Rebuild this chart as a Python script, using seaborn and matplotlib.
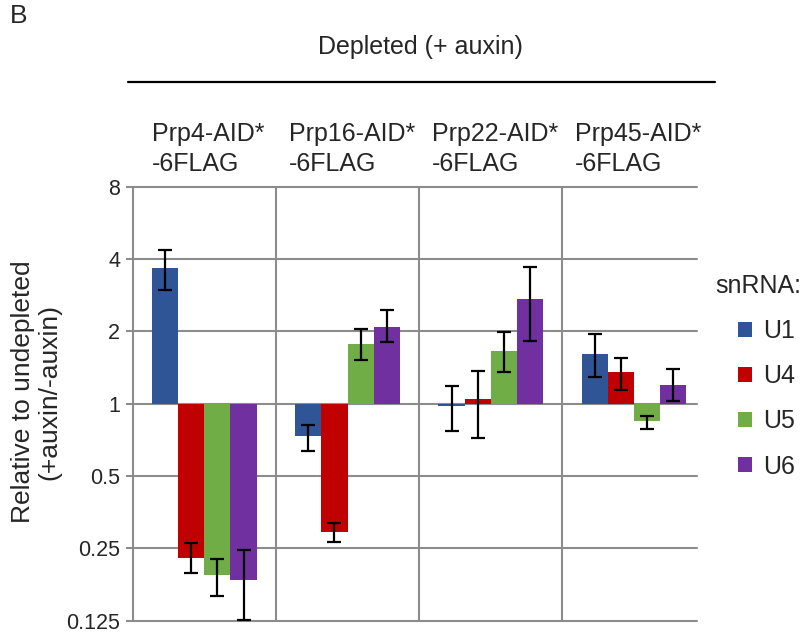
import numpy as np
import pandas as pd
import matplotlib
matplotlib.use("Agg")
import matplotlib.pyplot as plt
import seaborn as sns
from matplotlib.patches import Patch
from matplotlib.lines import Line2D

# ---- data ----
strains = ["Prp4-AID*\n-6FLAG", "Prp16-AID*\n-6FLAG", "Prp22-AID*\n-6FLAG", "Prp45-AID*\n-6FLAG"]
snrnas = ["U1", "U4", "U5", "U6"]

u1 = [3.66, 0.731, 0.98, 1.61]
u1_hi = [4.38, 0.816, 1.18, 1.95]
u1_lo = [2.96, 0.635, 0.77, 1.29]

u4 = [0.228, 0.293, 1.05, 1.35]
u4_hi = [0.262, 0.320, 1.37, 1.55]
u4_lo = [0.198, 0.266, 0.72, 1.14]

u5 = [0.193, 1.77, 1.66, 0.845]
u5_hi = [0.225, 2.04, 1.99, 0.886]
u5_lo = [0.158, 1.52, 1.35, 0.785]

u6 = [0.185, 2.09, 2.74, 1.195]
u6_hi = [0.246, 2.46, 3.71, 1.40]
u6_lo = [0.126, 1.80, 1.83, 1.03]

ytick_vals = [0.125, 0.25, 0.5, 1, 2, 4, 8]
ytick_labels = ["0.125", "0.25", "0.5", "1", "2", "4", "8"]

colors = ["#2F5597", "#C00000", "#70AD47", "#7030A0"]

# ---- build table ----
vals = [u1, u4, u5, u6]
his = [u1_hi, u4_hi, u5_hi, u6_hi]
los = [u1_lo, u4_lo, u5_lo, u6_lo]
rows = []
for s, v, h, l in zip(snrnas, vals, his, los):
    for st, vv, hh, ll in zip(strains, v, h, l):
        rows.append(dict(strain=st, snrna=s, value=vv, hi=hh, lo=ll))
df = pd.DataFrame(rows)
df["log2"] = np.log2(df["value"])

sns.set_style("white")
plt.rcParams["font.family"] = ["Liberation Sans", "DejaVu Sans"]

fig = plt.figure(figsize=(8.07, 6.33), dpi=100)
ax = fig.add_axes([132.7 / 807, 1 - 620.7 / 633, (697 - 132.7) / 807, (620.7 - 186.7) / 633])

sns.barplot(data=df, x="strain", y="log2", hue="snrna", order=strains, hue_order=snrnas,
            palette=colors, width=0.73, errorbar=None, legend=False, ax=ax,
            saturation=1, linewidth=0, zorder=3)

# error bars, matched to bars by x position
bars = sorted(ax.patches, key=lambda p: p.get_x())
order = df.assign(ci=df["strain"].map(strains.index), hi_=df["snrna"].map(snrnas.index)) \
          .sort_values(["ci", "hi_"])
xs = [b.get_x() + b.get_width() / 2 for b in bars]
y = np.log2(order["value"].values)
ylo = y - np.log2(order["lo"].values)
yhi = np.log2(order["hi"].values) - y
ax.errorbar(xs, y, yerr=[ylo, yhi], fmt="none", ecolor="black", elinewidth=1.6,
            capsize=5, capthick=1.6, zorder=4)

# axes styling
ax.set_xlim(-0.5, 3.44)
ax.set_ylim(-3, 3)
ax.set_yticks(np.log2(ytick_vals))
ax.set_yticklabels(ytick_labels, fontsize=15.5)
ax.set_xticks([])
ax.set_xlabel("")
ax.set_ylabel("")
for sp in ["top", "right", "bottom"]:
    ax.spines[sp].set_visible(False)
ax.spines["left"].set_color("#8C8C8C")
ax.spines["left"].set_linewidth(1.5)
ax.tick_params(axis="y", left=True, length=5, width=1.5, color="#8C8C8C", pad=4)
gray = "#8C8C8C"
for t in np.log2(ytick_vals):
    ax.axhline(t, color=gray, lw=1.5, zorder=1, clip_on=False)
for xv in [0.5, 1.5, 2.5]:
    ax.axvline(xv, color=gray, lw=1.5, zorder=1)

# group labels above the axes
for j, st in enumerate(strains):
    ax.text(j + 0.03, 1.025, st, transform=ax.get_xaxis_transform(), ha="center",
            va="bottom", multialignment="left", fontsize=18, linespacing=1.3)

# header
fig.text(420 / 807, 1 - 47 / 633, "Depleted (+ auxin)", ha="center", va="center", fontsize=18)
fig.add_artist(Line2D([128 / 807, 715 / 807], [1 - 82 / 633, 1 - 82 / 633], color="black", lw=1.6))
fig.text(10 / 807, 1 - 16 / 633, "B", ha="left", va="center", fontsize=19)

# y label
fig.text(36 / 807, 1 - 392 / 633, "Relative to undepleted\n(+auxin/-auxin)", rotation=90,
         ha="center", va="center", fontsize=19, multialignment="center", linespacing=1.1)

# legend
fig.text(715 / 807, 1 - 286 / 633, "snRNA:", ha="left", va="center", fontsize=18)
handles = [Patch(facecolor=c, edgecolor="none", label=s) for c, s in zip(colors, snrnas)]
fig.legend(handles=handles, loc="upper left",
           bbox_to_anchor=(733 / 807, 1 - 314 / 633), frameon=False, fontsize=18,
           handlelength=0.55, handleheight=0.55, labelspacing=0.85,
           handletextpad=0.45, borderaxespad=0, borderpad=0.2)

fig.savefig("out.png", dpi=100)
